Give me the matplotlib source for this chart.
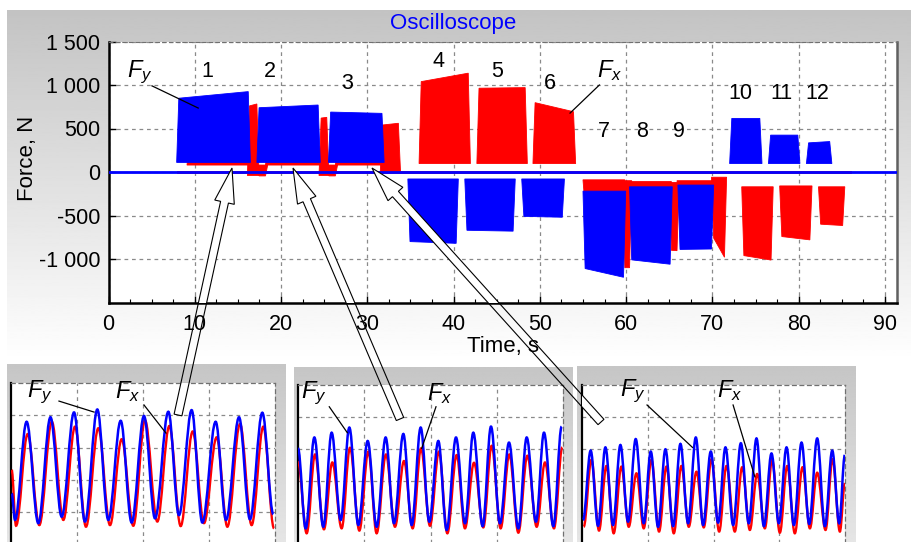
import numpy as np
import matplotlib
matplotlib.use("Agg")
import matplotlib.pyplot as plt
from matplotlib.path import Path
from matplotlib.patches import PathPatch, Polygon
from matplotlib.ticker import MultipleLocator

plt.rcParams['font.family'] = ['Liberation Sans', 'DejaVu Sans']
plt.rcParams['mathtext.fontset'] = 'custom'
plt.rcParams['mathtext.it'] = 'Liberation Sans:italic'
plt.rcParams['mathtext.rm'] = 'Liberation Sans'

# --------------------------------------------------------------------------
# Data
# --------------------------------------------------------------------------
# Main record: blocks of oscillation envelope
# start [s], end [s], edge near zero [N], extreme at start [N], extreme at end [N]
fy_t0 = [7.9, 17.2, 25.5, 34.7, 41.3, 47.9, 55.0, 60.4, 66.0, 72.0, 76.5, 80.9]
fy_t1 = [16.2, 24.3, 31.7, 40.3, 46.9, 52.6, 59.7, 65.1, 69.9, 75.5, 79.9, 83.6]
fy_base = [110, 110, 110, -80, -80, -80, -220, -170, -150, 97, 97, 97]
fy_ext0 = [848, 739, 689, -800, -670, -510, -1110, -1010, -890, 616, 424, 335]
fy_ext1 = [924, 770, 674, -820, -680, -520, -1210, -1060, -885, 616, 424, 350]

fx_t0 = [9.1, 16.1, 17.2, 18.2, 24.4, 25.3, 26.3, 31.5, 36.0, 42.7, 49.2,
         55.0, 59.6, 60.4, 65.0, 65.9, 69.9, 73.4, 77.8, 82.3]
fx_t1 = [16.1, 17.2, 18.2, 24.4, 25.3, 26.3, 31.5, 33.6, 41.7, 48.3, 53.9,
         59.6, 60.4, 65.0, 65.9, 69.9, 71.4, 76.8, 81.3, 85.1]
fx_base = [80, -40, 80, 80, -40, 80, 80, 0, 97, 97, 97,
           -90, -100, -110, -120, -100, -60, -170, -160, -170]
fx_ext0 = [300, 760, -45, 300, 620, -45, 300, 540, 1039, 963, 797,
           -400, -1100, -400, -900, -400, -760, -961, -742, -600]
fx_ext1 = [300, 782, -45, 300, 628, -45, 300, 560, 1136, 970, 693,
           -400, -1100, -400, -904, -400, -980, -1012, -780, -615]

x_ticks = [0, 10, 20, 30, 40, 50, 60, 70, 80, 90]
y_ticks = [-1000, -500, 0, 500, 1000, 1500]
y_labels = ['-1 000', '-500', '0', '500', '1 000', '1 500']

block_numbers = ['1', '2', '3', '4', '5', '6', '7', '8', '9', '10', '11', '12']
number_x = [11.4, 18.7, 27.7, 38.2, 45.0, 51.2, 57.4, 61.9, 66.1, 73.3, 78.0, 82.2]
number_y = [1151, 1151, 1013, 1266, 1151, 1013, 470, 470, 470, 907, 907, 907]

# Zoomed records (grid units): alternating extrema of Fy and Fx
p1_fy_t = [0.01, 0.061, 0.237, 0.414, 0.598, 0.768, 0.955, 1.121, 1.308, 1.475, 1.662, 1.828,
           2.015, 2.182, 2.384, 2.545, 2.737, 2.899, 3.101, 3.258, 3.455, 3.621, 3.808, 3.975]
p1_fy_v = [1.58, 0.76, 3.80, 0.66, 3.94, 0.86, 4.09, 0.71, 4.18, 0.76, 3.83, 0.68,
           3.98, 0.81, 4.11, 0.91, 4.16, 0.68, 3.80, 0.76, 3.94, 0.78, 4.08, 0.94]
p1_fx_t = [0.01, 0.076, 0.253, 0.429, 0.619, 0.793, 0.970, 1.136, 1.323, 1.500, 1.677, 1.853,
           2.030, 2.217, 2.399, 2.571, 2.753, 2.924, 3.116, 3.278, 3.470, 3.646, 3.823, 3.985]
p1_fx_v = [2.31, 0.58, 3.42, 0.60, 3.80, 0.76, 3.65, 0.55, 3.60, 0.60, 3.26, 0.58,
           3.85, 0.71, 3.67, 0.57, 3.50, 0.66, 3.32, 0.55, 3.73, 0.60, 3.65, 0.50]

p2_fy_t = [0.0, 0.116, 0.247, 0.382, 0.508, 0.644, 0.775, 0.911, 1.052, 1.187, 1.323, 1.449,
           1.590, 1.716, 1.852, 1.982, 2.118, 2.244, 2.385, 2.521, 2.646, 2.787, 2.913, 3.049,
           3.185, 3.326, 3.452, 3.592, 3.713, 3.854, 3.98]
p2_fy_v = [3.02, 0.52, 3.36, 0.57, 3.51, 0.78, 3.67, 0.625, 3.25, 0.57, 3.36, 0.68,
           3.47, 0.625, 3.67, 0.73, 3.25, 0.47, 3.36, 0.68, 3.51, 0.59, 3.70, 0.68,
           3.20, 0.52, 3.36, 0.73, 3.51, 0.59, 3.70]
p2_fx_t = [0.0, 0.131, 0.257, 0.392, 0.518, 0.659, 0.785, 0.926, 1.062, 1.187, 1.328, 1.464,
           1.600, 1.731, 1.857, 1.992, 2.128, 2.254, 2.395, 2.52, 2.657, 2.797, 2.923, 3.059,
           3.190, 3.326, 3.462, 3.603, 3.728, 3.864, 3.99]
p2_fx_v = [2.6, 0.365, 2.83, 0.49, 2.58, 0.52, 3.04, 0.45, 2.92, 0.365, 2.83, 0.57,
           2.625, 0.52, 3.02, 0.60, 2.92, 0.365, 2.81, 0.52, 2.57, 0.55, 3.10, 0.52,
           2.83, 0.385, 2.79, 0.57, 2.58, 0.52, 3.05]

p3_fy_t = [0.016, 0.132, 0.244, 0.356, 0.472, 0.584, 0.701, 0.817, 0.939, 1.046, 1.157, 1.269,
           1.386, 1.497, 1.614, 1.731, 1.842, 1.959, 2.070, 2.182, 2.299, 2.416, 2.537, 2.654,
           2.766, 2.882, 2.994, 3.111, 3.222, 3.339, 3.456, 3.577, 3.694, 3.806, 3.912, 3.998]
p3_fy_v = [0.78, 2.95, 0.60, 3.05, 0.625, 3.125, 0.73, 3.31, 0.68, 2.92, 0.57, 2.99,
           0.59, 3.16, 0.68, 3.36, 0.625, 2.92, 0.70, 3.05, 0.625, 3.18, 0.68, 3.33,
           0.59, 2.86, 0.68, 3.05, 0.625, 3.20, 0.66, 3.33, 0.59, 2.95, 0.68, 2.81]
p3_fx_t = [0.026, 0.143, 0.259, 0.371, 0.482, 0.599, 0.711, 0.828, 0.939, 1.056, 1.172, 1.284,
           1.396, 1.512, 1.624, 1.741, 1.852, 1.969, 2.086, 2.197, 2.324, 2.436, 2.553, 2.664,
           2.781, 2.892, 3.009, 3.121, 3.237, 3.354, 3.466, 3.577, 3.704, 3.811, 3.922, 3.998]
p3_fx_v = [0.57, 2.66, 0.45, 2.47, 0.365, 2.45, 0.57, 2.24, 0.52, 2.66, 0.42, 2.45,
           0.365, 2.47, 0.57, 2.29, 0.55, 2.68, 0.42, 2.47, 0.42, 2.43, 0.47, 2.22,
           0.52, 2.66, 0.385, 2.47, 0.365, 2.43, 0.52, 2.26, 0.47, 2.68, 0.42, 1.93]

BLUE = '#0000ff'
RED = '#ff0000'
GRID = dict(color='#8a8a8a', linestyle=(0, (3, 3)), linewidth=0.9)

W, H = 911, 542
fig = plt.figure(figsize=(W / 100, H / 100), dpi=100)


def px_axes(left, top, right, bottom, **kw):
    return fig.add_axes([left / W, 1 - bottom / H, (right - left) / W, (bottom - top) / H], **kw)


# background (pixel units)
bg = fig.add_axes([0, 0, 1, 1], zorder=0)
bg.set_xlim(0, W)
bg.set_ylim(H, 0)
bg.axis('off')
grad = np.linspace(0.765, 1.0, 256)[:, None]
bg.imshow(grad, cmap='gray', vmin=0, vmax=1, extent=(7, W, 362, 10), aspect='auto')
for l, t, r in [(7, 364, 286), (294, 367, 573), (577, 366, 856)]:
    g = np.linspace(0.775, 0.9, 128)[:, None]
    bg.imshow(g, cmap='gray', vmin=0, vmax=1, extent=(l, r, H, t), aspect='auto')

fig.text(453 / W, 1 - 24 / H, 'Oscilloscope', color=BLUE, fontsize=16,
         ha='center', va='center')

# --------------------------------------------------------------------------
# Main record
# --------------------------------------------------------------------------
ax = px_axes(108.5, 41.5, 897, 302.5, zorder=1)
ax.set_facecolor('white')
ax.set_xlim(0, 91.4)
ax.set_ylim(-1500, 1500)
ax.set_autoscale_on(False)


def block(a, t0, t1, base, e0, e1, color, ramp=0.25):
    a.fill([t0, t0 + ramp, t1, t1 + ramp], [base, e0, e1, base],
           color=color, lw=0.6, ec=color, zorder=3)


ax.plot([8, 86], [0, 0], color=RED, lw=2, zorder=2)
for i in range(len(fx_t0)):
    block(ax, fx_t0[i], fx_t1[i], fx_base[i], fx_ext0[i], fx_ext1[i], RED)
ax.plot([0, 91.4], [0, 0], color=BLUE, lw=2, zorder=3.5)
for i in range(len(fy_t0)):
    block(ax, fy_t0[i], fy_t1[i], fy_base[i], fy_ext0[i], fy_ext1[i], BLUE)

ax.set_xticks(x_ticks)
ax.set_yticks(y_ticks)
ax.set_yticklabels(y_labels)
ax.xaxis.set_minor_locator(MultipleLocator(2.5))
ax.tick_params(axis='both', which='major', direction='in', labelsize=15.5, length=5, width=1)
ax.tick_params(axis='x', which='minor', direction='in', length=3, width=0.8)
ax.tick_params(axis='x', pad=8)
ax.tick_params(axis='y', pad=6)
ax.grid(True, **GRID)
ax.set_axisbelow(True)
for s in ['left', 'bottom']:
    ax.spines[s].set_linewidth(1.8)
ax.spines['right'].set_color('#606060')
ax.spines['right'].set_linewidth(1.8)
ax.spines['top'].set_color('#707070')
ax.spines['top'].set_linestyle((0, (3, 3)))
ax.set_xlabel('Time, s', fontsize=16, labelpad=1)
ax.set_ylabel('Force, N', fontsize=16)
ax.yaxis.set_label_coords(-0.089, 0.553)

for lab, xv, yv in zip(block_numbers, number_x, number_y):
    ax.text(xv, yv, lab, fontsize=15.5, ha='center', va='center', zorder=6)

ax.text(3.6, 1150, '$F_y$', fontsize=17, ha='center', va='center', zorder=6)
ax.plot([5.04, 10.4], [990, 735], color='black', lw=0.9, zorder=6)
ax.text(58.1, 1170, '$F_x$', fontsize=17, ha='center', va='center', zorder=6)
ax.plot([56.9, 53.5], [1000, 677], color='black', lw=0.9, zorder=6)

# --------------------------------------------------------------------------
# Zoomed records
# --------------------------------------------------------------------------


def wave(a, tt, vv, color, lw):
    verts = [(tt[0], vv[0])]
    codes = [Path.MOVETO]
    k = 0.36
    for j in range(1, len(tt)):
        d = tt[j] - tt[j - 1]
        verts += [(tt[j - 1] + k * d, vv[j - 1]), (tt[j] - k * d, vv[j]), (tt[j], vv[j])]
        codes += [Path.CURVE4] * 3
    a.add_patch(PathPatch(Path(verts, codes), fc='none', ec=color, lw=lw, zorder=3))


panels = [
    ((11, 383, 275, 544.5), p1_fy_t, p1_fy_v, p1_fx_t, p1_fx_v,
     (0.44, 4.72), ((0.727, 4.44), (1.258, 4.10)), (1.773, 4.72), ((2.015, 4.32), (2.348, 3.45))),
    ((298, 385, 563, 545), p2_fy_t, p2_fy_v, p2_fx_t, p2_fx_v,
     (0.231, 4.74), ((0.472, 4.32), (0.744, 3.51)), (2.143, 4.74), ((2.083, 4.32), (1.867, 3.02))),
    ((582, 385, 845, 545), p3_fy_t, p3_fy_v, p3_fx_t, p3_fx_v,
     (0.776, 4.79), ((0.989, 4.375), (1.680, 3.05)), (2.237, 4.84), ((2.298, 4.375), (2.629, 2.13))),
]
panel_axes = []
for box, fyt, fyv, fxt, fxv, fy_lab, fy_line, fx_lab, fx_line in panels:
    pa = px_axes(*box, zorder=1)
    pa.set_facecolor('white')
    pa.set_xlim(0, 4)
    pa.set_ylim(0, 5)
    pa.set_autoscale_on(False)
    pa.set_xticks([1, 2, 3])
    pa.set_yticks([1, 2, 3, 4])
    pa.tick_params(length=0, labelbottom=False, labelleft=False)
    pa.grid(True, **GRID)
    pa.set_axisbelow(True)
    pa.spines['left'].set_linewidth(1.6)
    for s in ['top', 'right']:
        pa.spines[s].set_color('#707070')
        pa.spines[s].set_linestyle((0, (3, 3)))
        pa.spines[s].set_linewidth(0.9)
    pa.spines['bottom'].set_visible(False)
    wave(pa, fxt, fxv, RED, 1.7)
    wave(pa, fyt, fyv, BLUE, 1.8)
    pa.text(*fy_lab, '$F_y$', fontsize=17, ha='center', va='center', zorder=6)
    pa.plot(*zip(*fy_line), color='black', lw=0.9, zorder=6)
    pa.text(*fx_lab, '$F_x$', fontsize=17, ha='center', va='center', zorder=6)
    pa.plot(*zip(*fx_line), color='black', lw=0.9, zorder=6)
    panel_axes.append(pa)

# --------------------------------------------------------------------------
# Hollow arrows linking zoomed records to the main record (pixel units)
# --------------------------------------------------------------------------
ov = fig.add_axes([0, 0, 1, 1], zorder=5)
ov.set_xlim(0, W)
ov.set_ylim(H, 0)
ov.axis('off')
ov.patch.set_visible(False)


def arrow_outline(tail, tip, w=8, hw=20, hl=35):
    tail = np.array(tail, float)
    tip = np.array(tip, float)
    u = (tip - tail) / np.linalg.norm(tip - tail)
    n = np.array([-u[1], u[0]])
    neck = tip - u * hl
    return [tail + n * w / 2, neck + n * w / 2, neck + n * hw / 2, tip,
            neck - n * hw / 2, neck - n * w / 2, tail - n * w / 2]


arrow_ends = [((178, 415), (232, 168)), ((400, 419), (293, 168)), ((601, 422), (372, 168))]
for k, (tail, tip) in enumerate(arrow_ends):
    pts = arrow_outline(tail, tip)
    # white inside only where it crosses the plotting areas
    for a in (ax, panel_axes[k]):
        a.add_patch(Polygon(pts, closed=True, transform=ov.transData,
                            fc='white', ec='none', zorder=5))
    ov.add_patch(Polygon(pts, closed=True, fc='none', ec='black', lw=0.8))

fig.savefig('out.png', dpi=100)
